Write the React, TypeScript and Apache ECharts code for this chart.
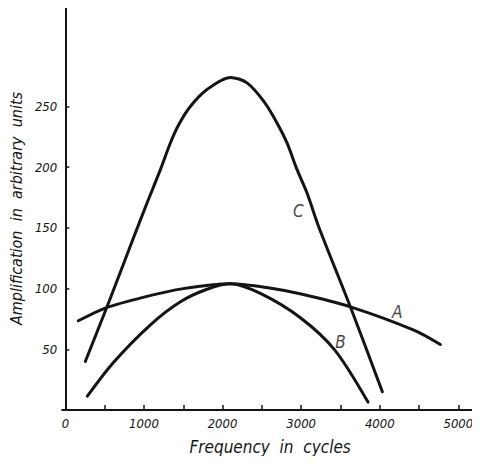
import React, { useEffect, useRef } from "react";
import * as echarts from "echarts";

const curveA: [number, number][] = [
  [165, 73.5], [508, 84], [1000, 93], [1500, 100], [2100, 104],
  [2600, 100.5], [3000, 95.5], [3626, 85], [4427, 66], [4771, 54],
];
const curveB: [number, number][] = [
  [280, 11.5], [609, 39], [1079, 70], [1459, 89], [1802, 99.5], [2100, 104],
  [2481, 96], [2990, 76], [3426, 49.5], [3850, 6.5],
];
const curveC: [number, number][] = [
  [254, 40], [560, 90], [850, 139], [1039, 170.5], [1209, 198],
  [1336, 220], [1442, 235], [1590, 250], [1802, 264], [2099, 274],
  [2311, 269.5], [2523, 254.4], [2693, 236.5], [2820, 220], [2948, 198],
  [3075, 178.7], [3223, 151], [3626, 85], [4033, 15],
];
const curveLabels: { name: string; value: [number, number] }[] = [
  { name: "C", value: [2964, 164] },
  { name: "A", value: [4224, 81] },
  { name: "B", value: [3499, 56] },
];
const xLabelValues = [0, 1000, 2000, 3000, 4000, 5000];
const xTickValues = [500, 1000, 1500, 2000, 2500, 3000, 3500, 4000, 4500, 5000];
const yValues = [50, 100, 150, 200, 250];

const FONT = "DejaVu Sans Condensed";
const INK = "#141414";

export default function App() {
  const ref = useRef<HTMLDivElement>(null);
  useEffect(() => {
    const chart = echarts.init(ref.current!, null, { renderer: "svg" });
    const lineSeries = (data: [number, number][]) => ({
      type: "line",
      data,
      smooth: 0.3,
      symbol: "none",
      lineStyle: { color: INK, width: 3, cap: "round" },
      silent: true,
    });
    chart.setOption({
      animation: false,
      backgroundColor: "#ffffff",
      grid: { left: 62, right: 2, top: 7, bottom: 54 },
      xAxis: {
        type: "value",
        min: -40,
        max: 5250,
        name: "Frequency  in  cycles",
        nameLocation: "middle",
        nameGap: 28,
        nameTextStyle: { fontFamily: FONT, fontStyle: "italic", fontSize: 17, color: INK },
        axisLine: { show: true, lineStyle: { color: INK, width: 2 } },
        axisTick: { show: true, inside: true, length: 5, customValues: xTickValues, lineStyle: { color: INK, width: 1.5 } },
        axisLabel: {
          customValues: xLabelValues,
          formatter: (v: number) => String(v),
          fontFamily: FONT, fontStyle: "italic", fontSize: 13, color: INK, margin: 7,
        },
        splitLine: { show: false },
      },
      yAxis: {
        type: "value",
        min: 0,
        max: 332,
        name: "Amplification  in  arbitrary  units",
        nameLocation: "middle",
        nameGap: 36,
        nameRotate: 90,
        nameTextStyle: { fontFamily: FONT, fontStyle: "italic", fontSize: 16, color: INK },
        axisLine: { show: true, lineStyle: { color: INK, width: 2 } },
        axisTick: { show: true, inside: true, length: 4, customValues: yValues, lineStyle: { color: INK, width: 1.5 } },
        axisLabel: {
          customValues: yValues,
          formatter: (v: number) => String(v),
          fontFamily: FONT, fontStyle: "italic", fontSize: 13, color: INK, margin: 5,
        },
        splitLine: { show: false },
      },
      series: [
        lineSeries(curveA),
        lineSeries(curveB),
        lineSeries(curveC),
        {
          type: "scatter",
          data: curveLabels,
          symbolSize: 0,
          silent: true,
          label: {
            show: true,
            position: "inside",
            formatter: "{b}",
            fontFamily: FONT,
            fontStyle: "italic",
            fontSize: 17,
            color: INK,
          },
        },
      ],
    });
    return () => chart.dispose();
  }, []);
  return <div ref={ref} style={{ width: 480, height: 464, margin: -8 }} />;
}
